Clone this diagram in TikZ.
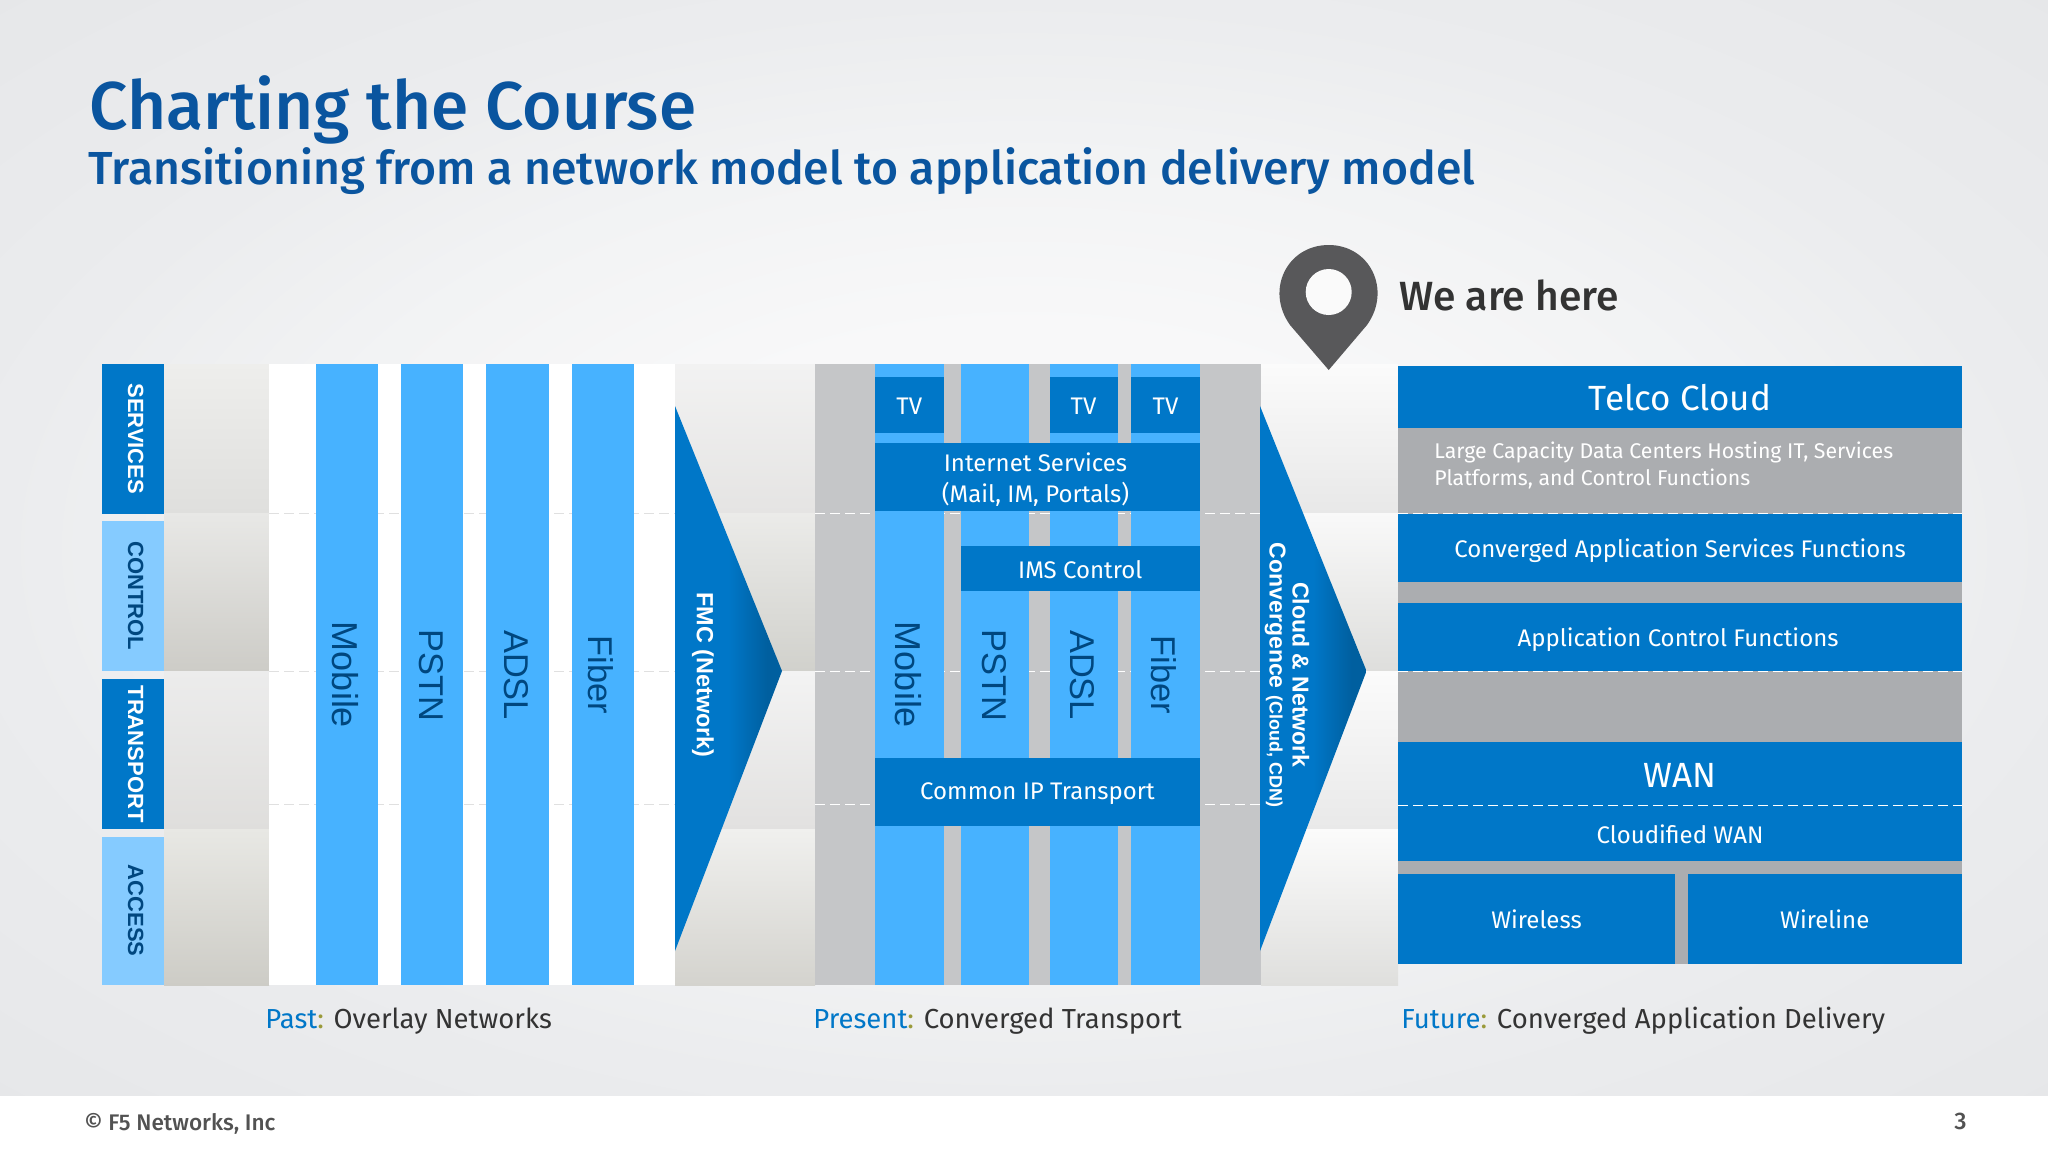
\documentclass[tikz,border=0pt]{standalone}
\usepackage{fontspec}
\setmainfont{Fira Sans}
\newfontfamily\arial{Liberation Sans}
\newfontfamily\medfont{Fira Sans Medium}
\usetikzlibrary{calc}
\definecolor{dkblue}{HTML}{0077C8}
\definecolor{dkblueb}{HTML}{005F9F}
\definecolor{ltblue}{HTML}{47B2FF}
\definecolor{paleblue}{HTML}{85CBFF}
\definecolor{navy}{HTML}{00477F}
\definecolor{titleblue}{HTML}{0A559F}
\definecolor{midgray}{HTML}{C5C6C8}
\definecolor{blockgray}{HTML}{ABADB0}
\definecolor{pingray}{HTML}{58585A}
\definecolor{ink}{HTML}{333333}
\definecolor{gold}{HTML}{9A9A3A}
\definecolor{bga}{HTML}{FBFBFC}
\definecolor{bgb}{HTML}{F8F8F9}
\definecolor{bgc}{HTML}{F2F3F4}
\definecolor{bgd}{HTML}{EBECEE}
\definecolor{bge}{HTML}{E6E7E9}
\pgfdeclareradialshading{slidebg}{\pgfpoint{0bp}{0bp}}{color(0bp)=(bga);color(10bp)=(bgb);color(18bp)=(bgc);color(25bp)=(bgd);color(36bp)=(bge);color(50bp)=(bge)}
\pgfdeclarehorizontalshading{chev}{100bp}{color(0bp)=(dkblue);color(50bp)=(dkblue);color(68bp)=(dkblueb);color(100bp)=(dkblueb)}
\newcommand{\captionline}[4]{\node[captiontxt,anchor=base west] (#1) at (#2,1028) {\textcolor{dkblue}{#3}\textcolor{gold}{:} #4};}
\tikzset{
  x=0.5pt,y=-0.5pt,
  captiontxt/.style={font=\fontsize{13.75}{17}\selectfont,text=ink,inner sep=0pt},
  wtxt/.style={text=white,inner sep=0pt,align=center,font=\fontsize{12}{15.5}\selectfont},
  vert/.style={rotate=-90,text=navy,inner sep=0pt,font=\arial\fontsize{17.2}{20}\selectfont},
  side/.style={rotate=-90,inner sep=0pt,font=\arial\bfseries\fontsize{11}{13}\selectfont},
  rowline/.style={draw=white,line width=0.4pt,dash pattern=on 5pt off 2.5pt},
  bigw/.style={wtxt,font=\fontsize{17.5}{20}\selectfont},
}
\begin{document}
\begin{tikzpicture}
\useasboundingbox (0,0) rectangle (2048,1152);
% slide background
\shade[shading=slidebg] (0,0) rectangle (2048,1096);
\fill[white] (0,1096) rectangle (2048,1152);
% row bands: segments between the blocks
\foreach \xa/\xb/\ca/\cb/\cc/\cd/\ce/\cf/\cg/\ch in {
 164/269/EEEEEC/DFDFDD/E8E8E6/CDCCC7/ECECEC/DFDEDC/E8E8E4/CDCCC6,
 675/815/F2F2F2/E5E4E3/EBEBE9/D1D1CC/F3F3F3/E2E1E0/F0F0EE/D4D3CE,
 1261/1398/FBFBFB/E8E8E8/F9F9F9/DEDEDC/FBFBFB/E9E9E9/FBFBFB/DFDFDD}{
  \definecolor{ca}{HTML}{\ca}\definecolor{cb}{HTML}{\cb}
  \definecolor{cc}{HTML}{\cc}\definecolor{cd}{HTML}{\cd}
  \definecolor{ce}{HTML}{\ce}\definecolor{cf}{HTML}{\cf}
  \definecolor{cg}{HTML}{\cg}\definecolor{ch}{HTML}{\ch}
  \shade[top color=ca,bottom color=cb] (\xa,364) rectangle (\xb,513);
  \shade[top color=cc,bottom color=cd] (\xa,513) rectangle (\xb,671);
  \shade[top color=ce,bottom color=cf] (\xa,671) rectangle (\xb,829);
  \shade[top color=cg,bottom color=ch] (\xa,829) rectangle (\xb,985);
}
% titles
\node[anchor=base west,inner sep=0pt,text=titleblue,font=\medfont\fontsize{33.8}{36}\selectfont] (title) at (89,129) {Charting the Course};
\node[anchor=base west,inner sep=0pt,text=titleblue,font=\medfont\fontsize{23.17}{28}\selectfont] (subtitle) at (88,184) {Transitioning from a network model to application delivery model};
% layer labels
\fill[dkblue] (102,364) rectangle (163.5,513.5) node[midway,side,text=white,yshift=1.5pt] (services) {SERVICES};
\fill[paleblue] (102,521) rectangle (163.5,671) node[midway,side,text=navy,yshift=1.5pt] (control) {CONTROL};
\fill[dkblue] (102,679) rectangle (163.5,829) node[midway,side,text=white,yshift=1.5pt] (transport) {TRANSPORT};
\fill[paleblue] (102,836.5) rectangle (163.5,985) node[midway,side,text=navy,yshift=1.5pt] (access) {ACCESS};
% past
\fill[white] (269,364) rectangle (675,985);
\foreach \y in {513.5,671,804}{\draw[rowline,draw=black!12] (269,\y) -- (675,\y);}
\fill[ltblue] (316,364) rectangle (378,985);
\fill[ltblue] (401,364) rectangle (463,985);
\fill[ltblue] (486,364) rectangle (548.5,985);
\fill[ltblue] (572,364) rectangle (634,985);
\node[vert,font=\arial\fontsize{18}{20}\selectfont] (pmobile) at (345,675) {Mobile};
\node[vert] (ppstn) at (431,675) {PSTN};
\node[vert] (padsl) at (516,675) {ADSL};
\node[vert] (pfiber) at (601,675) {Fiber};
\shade[shading=chev] (675,406) -- (782,671) -- (675,951) -- cycle;
\node[rotate=-90,text=white,inner sep=0pt,font=\arial\bfseries\fontsize{11.7}{14}\selectfont] (fmc) at (703,675) {FMC (Network)};
% present
\fill[midgray] (815,364) rectangle (1260.5,985);
\foreach \y in {513.5,671,804}{\draw[rowline] (815,\y) -- (1260.5,\y);}
\fill[ltblue] (875,364) rectangle (943.5,985);
\fill[ltblue] (960.5,364) rectangle (1029,985);
\fill[ltblue] (1049.5,364) rectangle (1117.5,985);
\fill[ltblue] (1131,364) rectangle (1200,985);
\fill[dkblue] (875,377) rectangle (943.5,433) node[midway,wtxt,yshift=-0.5pt] (tva) {TV};
\fill[dkblue] (1049.5,377) rectangle (1117.5,433) node[midway,wtxt,yshift=-0.5pt] (tvb) {TV};
\fill[dkblue] (1131,377) rectangle (1200,433) node[midway,wtxt,yshift=-0.5pt] (tvc) {TV};
\fill[ltblue] (875,433) rectangle (943.5,443);
\fill[ltblue] (1049.5,433) rectangle (1117.5,443);
\fill[ltblue] (1131,433) rectangle (1200,443);
\fill[dkblue] (875,443) rectangle (1200,511) node[midway,wtxt,xshift=-1pt,yshift=-1.3pt] (inet) {Internet Services\\(Mail, IM, Portals)};
\fill[dkblue] (960.5,546) rectangle (1200,591) node[midway,wtxt,yshift=-0.5pt] (ims) {IMS Control};
\fill[dkblue] (875,758) rectangle (1200,826) node[midway,wtxt,yshift=-0.8pt] (ip) {Common IP Transport};
\node[vert,font=\arial\fontsize{18}{20}\selectfont] (cmobile) at (908,675) {Mobile};
\node[vert] (cpstn) at (994,675) {PSTN};
\node[vert] (cadsl) at (1082,675) {ADSL};
\node[vert] (cfiber) at (1164,675) {Fiber};
\shade[shading=chev] (1260,406) -- (1366.5,671) -- (1260,951) -- cycle;
\node[rotate=-90,text=white,inner sep=0pt,align=center,font=\arial\bfseries\fontsize{11.5}{11.5}\selectfont] (cloud) at (1287,675) {Cloud \& Network\\Convergence {\fontsize{9}{11}\selectfont (Cloud, CDN)}};
% pin
\fill[pingray] (1328.7,370) -- (1290,325)
  .. controls (1265,290) and (1287,245) .. (1328.7,245)
  .. controls (1370,245) and (1392,290) .. (1367,325) -- cycle;
\coordinate (pinhole) at (1328.7,292);
\fill[white!96!gray] (pinhole) circle[radius=23];
\node[anchor=base west,inner sep=0pt,text=ink,font=\medfont\fontsize{20.4}{24}\selectfont] (here) at (1399,310) {We are here};
% future
\fill[blockgray] (1398,365.5) rectangle (1962,964);
\fill[dkblue] (1398,365.5) rectangle (1962,428) node[midway,bigw,yshift=-0.5pt] (telco) {Telco Cloud};
\node[anchor=north west,inner sep=0pt,text=white,align=left,font=\fontsize{10.65}{13.8}\selectfont] (dc) at (1434,441) {Large Capacity Data Centers Hosting IT, Services\\Platforms, and Control Functions};
\fill[dkblue] (1398,514) rectangle (1962,582) node[midway,wtxt,yshift=-1.3pt] (cas) {Converged Application Services Functions};
\fill[dkblue] (1398,602.5) rectangle (1962,671) node[midway,wtxt,yshift=-1.3pt,xshift=-1pt] (acf) {Application Control Functions};
\fill[dkblue] (1398,742) rectangle (1962,861);
\node[bigw] (wan) at (1680,775) {WAN};
\node[wtxt] (cwan) at (1680,834) {Cloudified WAN};
\fill[dkblue] (1398,874) rectangle (1675,964) node[midway,wtxt] (wireless) {Wireless};
\fill[dkblue] (1687.5,874) rectangle (1962,964) node[midway,wtxt] (wireline) {Wireline};
\foreach \y in {513.5,671,805}{\draw[rowline] (1398,\y) -- (1962,\y);}
% captions
\captionline{past}{265}{Past}{Overlay Networks}
\captionline{present}{813}{Present}{Converged Transport}
\captionline{future}{1401}{Future}{Converged Application Delivery}
% footer
\node[anchor=base west,inner sep=0pt,text=ink!85,font=\medfont\fontsize{11.3}{12}\selectfont] (copy) at (84,1130) {© F5 Networks, Inc};
\node[anchor=base east,inner sep=0pt,text=ink!85,font=\medfont\fontsize{12}{12}\selectfont] (page) at (1967,1129) {3};
\end{tikzpicture}
\end{document}
